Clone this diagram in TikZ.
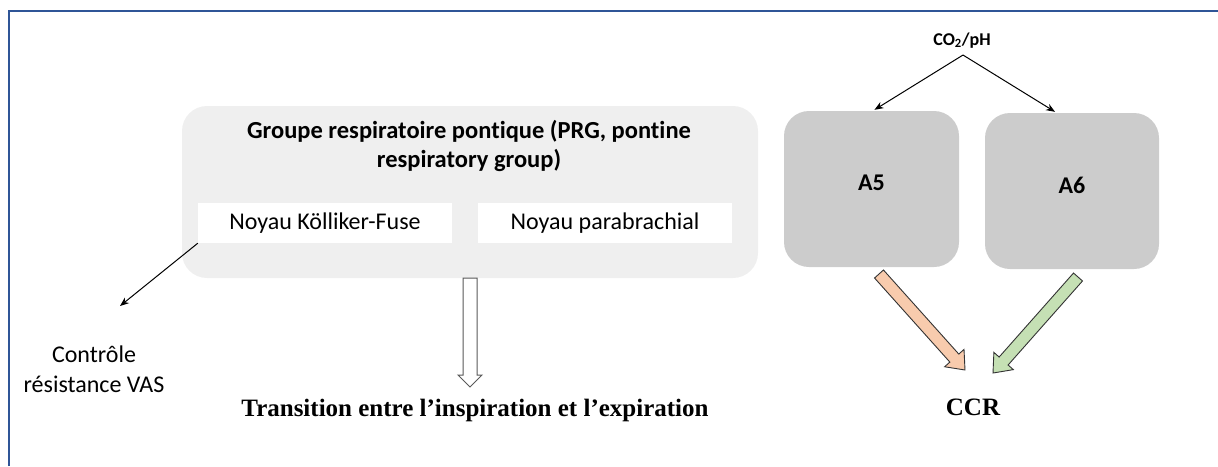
\documentclass[tikz,border=0pt]{standalone}
\usepackage{fontspec}
\setmainfont{Carlito}[Ligatures=NoCommon]
\newfontfamily\timesgras{Liberation Serif}
\usetikzlibrary{calc,arrows.meta}
\definecolor{fondprg}{HTML}{EFEFEF}
\definecolor{fondgris}{HTML}{CCCCCC}
\definecolor{peche}{HTML}{F8CBAD}
\definecolor{vertpale}{HTML}{C5E0B4}
\definecolor{bleucadre}{HTML}{2F5597}
\begin{document}
\begin{tikzpicture}[x=1pt,y=-1pt,
  texte/.style={font=\fontsize{24}{30}\selectfont, align=center, inner sep=0},
  titre/.style={font=\fontsize{24.5}{29}\selectfont\bfseries, align=center, inner sep=0},
  noyau/.style={fill=white, minimum width=254, minimum height=40, inner sep=0, font=\fontsize{24}{29}\selectfont},
  aire/.style={fill=fondgris, rounded corners=25, minimum height=156, inner sep=0, font=\fontsize{24}{29}\selectfont\bfseries},
  legende/.style={anchor=base, inner sep=0, font=\timesgras\bfseries\fontsize{25}{29}\selectfont},
  fin/.style={draw, line width=1, -{Stealth[length=9,width=7]}},
  bloc/.style={draw=black!80, line width=0.9, line join=miter}]
\newcommand\grossefleche[6]{
\coordinate (gfbase) at ($(#2)!#6!(#1)$);
\path[#3] ($(#1)!#4!90:(#2)$) -- ($(gfbase)!#4!90:(#2)$) -- ($(gfbase)!#5!90:(#2)$) -- (#2)
  -- ($(gfbase)!#5!-90:(#2)$) -- ($(gfbase)!#4!-90:(#2)$) -- ($(#1)!#4!-90:(#2)$) -- cycle;
}
\useasboundingbox (0,0) rectangle (1218,466);
\path[draw=bleucadre, line width=2] (9,466) -- (9,11) -- (1218,11);

\node[fill=fondprg, rounded corners=25, minimum width=576, minimum height=172, inner sep=0] (prg) at (470,192) {};
\node[titre] (titre) at (469,146) {Groupe respiratoire pontique (PRG, pontine\\respiratory group)};
\node[noyau] (kf) at (325,223) {Noyau Kölliker-Fuse};
\node[noyau] (pb) at (605,223) {Noyau parabrachial};
\node[texte] (vas) at (94,369) {Contrôle\\résistance VAS};
\coordinate (vasfleche) at (120,306);
\path[fin] (kf.south west) -- (vasfleche);
\node[legende] (trans) at (475,416) {Transition entre l’inspiration et l’expiration};
\coordinate (transfleche) at (470,387);
\grossefleche{prg.south}{transfleche}{draw=black!65, fill=white, line width=1, line join=miter}{7pt}{12pt}{12pt}

\node[anchor=base, inner sep=0, font=\fontsize{18}{20}\selectfont\bfseries] (co2) at (962,45) {CO\textsubscript{2}/pH};
\node[aire, minimum width=175] (A5) at (871.5,189) {\raisebox{12pt}{A5}};
\node[aire, minimum width=174] (A6) at (1072,191) {\raisebox{12pt}{A6}};
\path[fin] ($(co2.south)+(1,7)$) -- ($(A5.north)+(3,-1)$);
\path[fin] ($(co2.south)+(1,7)$) -- ($(A6.north)+(-17,-1)$);
\node[legende] (ccr) at (973,415) {CCR};
\coordinate (a5bas) at (879,274);
\coordinate (ccrg) at (965,370);
\coordinate (a6bas) at (1078,277);
\coordinate (ccrd) at (993,373);
\grossefleche{a5bas}{ccrg}{bloc, fill=peche}{6pt}{13pt}{16pt}
\grossefleche{a6bas}{ccrd}{bloc, fill=vertpale}{6pt}{13pt}{16pt}
\end{tikzpicture}
\end{document}
